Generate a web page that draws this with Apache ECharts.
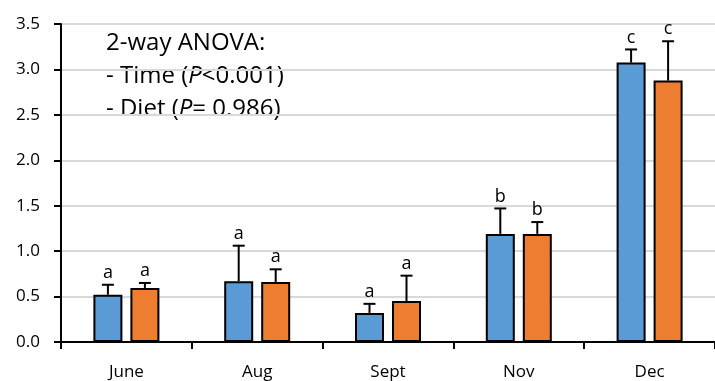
<!DOCTYPE html>
<html>
<head>
<meta charset="utf-8">
<script src="https://cdn.jsdelivr.net/npm/echarts@6/dist/echarts.min.js"></script>
<style>html,body{margin:0;padding:0;background:#fff;}#c{width:715px;height:381px;}</style>
</head>
<body>
<div id="c"></div>
<script>
const categories = ['June', 'Aug', 'Sept', 'Nov', 'Dec'];
const blueValues = [0.52, 0.67, 0.32, 1.19, 3.075];
const blueErrors = [0.11, 0.39, 0.10, 0.28, 0.145];
const blueLetters = ['a', 'a', 'a', 'b', 'c'];
const orangeValues = [0.595, 0.66, 0.45, 1.19, 2.877];
const orangeErrors = [0.055, 0.14, 0.28, 0.13, 0.433];
const orangeLetters = ['a', 'a', 'a', 'b', 'c'];
const yTicks = { min: 0, max: 3.5, interval: 0.5 };

const FONT = 'Open Sans';
const BAR_W = 29;
const BAR_GAP_PX = 8;

function errSeries(values, errors, letters, side) {
  return {
    type: 'custom',
    z: 5,
    data: values.map((v, i) => [i, v, errors[i], letters[i]]),
    encode: { x: 0, y: 1 },
    renderItem: function (params, api) {
      const i = api.value(0);
      const v = api.value(1);
      const e = api.value(2);
      const off = side * (BAR_W / 2 + BAR_GAP_PX / 2);
      const base = api.coord([i, v]);
      const top = api.coord([i, v + e]);
      const x = base[0] + off;
      const cap = 6;
      return {
        type: 'group',
        children: [
          { type: 'line', shape: { x1: x, y1: base[1], x2: x, y2: top[1] }, style: { stroke: '#000', lineWidth: 2 } },
          { type: 'line', shape: { x1: x - cap, y1: top[1], x2: x + cap, y2: top[1] }, style: { stroke: '#000', lineWidth: 2 } },
          { type: 'text', style: { text: letters[params.dataIndex], x: x, y: top[1] - 3, align: 'center', verticalAlign: 'bottom', fontFamily: FONT, fontSize: 18, fill: '#000' } }
        ]
      };
    }
  };
}

const chart = echarts.init(document.getElementById('c'));
chart.setOption({
  animation: false,
  grid: { left: 61, top: 24, width: 663, height: 318.5, containLabel: false },
  xAxis: {
    type: 'category',
    data: categories,
    boundaryGap: true,
    axisLine: { lineStyle: { color: '#000', width: 2 } },
    axisTick: { show: true, length: 7, lineStyle: { color: '#000', width: 2 } },
    axisLabel: { color: '#000', fontFamily: FONT, fontSize: 17, margin: 22 },
    splitLine: { show: false }
  },
  yAxis: {
    type: 'value',
    min: yTicks.min, max: yTicks.max, interval: yTicks.interval,
    axisLine: { show: true, lineStyle: { color: '#000', width: 2 } },
    axisTick: { show: true, length: 7, lineStyle: { color: '#000', width: 2 } },
    axisLabel: { color: '#000', fontFamily: FONT, fontSize: 17, margin: 21, formatter: v => v.toFixed(1) },
    splitLine: { show: true, lineStyle: { color: '#d9d9d9', width: 2 } }
  },
  series: [
    { type: 'bar', data: blueValues, barWidth: BAR_W, barGap: (BAR_GAP_PX / BAR_W * 100) + '%', itemStyle: { color: '#5B9BD5', borderColor: '#000', borderWidth: 2 } },
    { type: 'bar', data: orangeValues, barWidth: BAR_W, itemStyle: { color: '#ED7D31', borderColor: '#000', borderWidth: 2 } },
    errSeries(blueValues, blueErrors, blueLetters, -1),
    errSeries(orangeValues, orangeErrors, orangeLetters, 1)
  ],
  graphic: [{
    type: 'text', left: 106, top: 27,
    style: {
      text: '2-way ANOVA:\n- Time ({i|P}<0.001)\n- Diet ({i|P}= 0.986)',
      fontFamily: FONT, fontSize: 24, lineHeight: 33, fill: '#000',
      rich: { i: { fontStyle: 'italic', fontFamily: FONT, fontSize: 24, lineHeight: 33 } }
    }
  }]
});
</script>
</body>
</html>
